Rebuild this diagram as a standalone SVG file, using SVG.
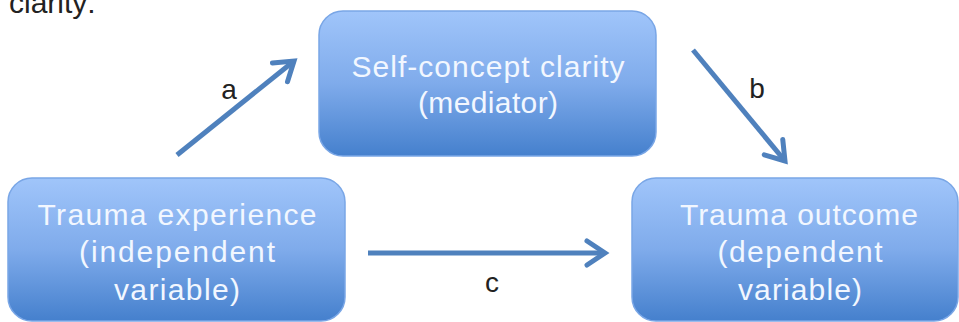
<svg xmlns="http://www.w3.org/2000/svg" width="959" height="322" viewBox="0 0 959 322">
  <defs>
    <linearGradient id="boxGrad" x1="0" y1="0" x2="0" y2="1">
      <stop offset="0" stop-color="#A0C5FA"/>
      <stop offset="0.5" stop-color="#7FABEB"/>
      <stop offset="1" stop-color="#4580CD"/>
    </linearGradient>
    <marker id="arrow" markerUnits="userSpaceOnUse" markerWidth="40" markerHeight="40" viewBox="-30 -20 40 40" refX="0" refY="0" orient="auto">
      <path d="M -18,-12 L 0,0 L -18,12" fill="none" stroke="#4F81BD" stroke-width="5" stroke-linecap="round" stroke-linejoin="miter"/>
    </marker>
    <style>
      .box { fill: url(#boxGrad); stroke: #79A6E6; stroke-width: 1.5; }
      .btxt { font-family: "Liberation Sans", Arial, sans-serif; font-size: 30px; fill: #F2F7FF; text-anchor: middle; }
      .lbl { font-family: "Liberation Sans", Arial, sans-serif; font-size: 28px; fill: #222222; text-anchor: middle; }
      .conn { stroke: #4F81BD; stroke-width: 5; fill: none; marker-end: url(#arrow); }
    </style>
  </defs>

  <text x="9" y="13" font-family="Liberation Sans, Arial, sans-serif" font-size="30" fill="#222222">clarity:</text>

  <g id="mediator">
    <rect class="box" x="319" y="11" width="337" height="145" rx="24" ry="24"/>
    <text class="btxt" x="488" y="77" textLength="273" lengthAdjust="spacing">Self-concept clarity</text>
    <text class="btxt" x="488" y="113" textLength="140" lengthAdjust="spacing">(mediator)</text>
  </g>

  <g id="independent">
    <rect class="box" x="8" y="178" width="337" height="143" rx="24" ry="24"/>
    <text class="btxt" x="177" y="225" textLength="279" lengthAdjust="spacing">Trauma experience</text>
    <text class="btxt" x="177" y="262" textLength="196" lengthAdjust="spacing">(independent</text>
    <text class="btxt" x="177" y="300" textLength="126" lengthAdjust="spacing">variable)</text>
  </g>

  <g id="dependent">
    <rect class="box" x="632" y="178" width="326" height="143" rx="24" ry="24"/>
    <text class="btxt" x="799" y="225" textLength="238" lengthAdjust="spacing">Trauma outcome</text>
    <text class="btxt" x="800" y="262" textLength="165" lengthAdjust="spacing">(dependent</text>
    <text class="btxt" x="800" y="300" textLength="124" lengthAdjust="spacing">variable)</text>
  </g>

  <g id="connectors">
    <line class="conn" x1="177" y1="155" x2="294" y2="61"/>
    <line class="conn" x1="693" y1="50" x2="785" y2="161"/>
    <line class="conn" x1="368" y1="253" x2="605" y2="253"/>
    <text class="lbl" x="229" y="99">a</text>
    <text class="lbl" x="757" y="98">b</text>
    <text class="lbl" x="492" y="292">c</text>
  </g>
</svg>
